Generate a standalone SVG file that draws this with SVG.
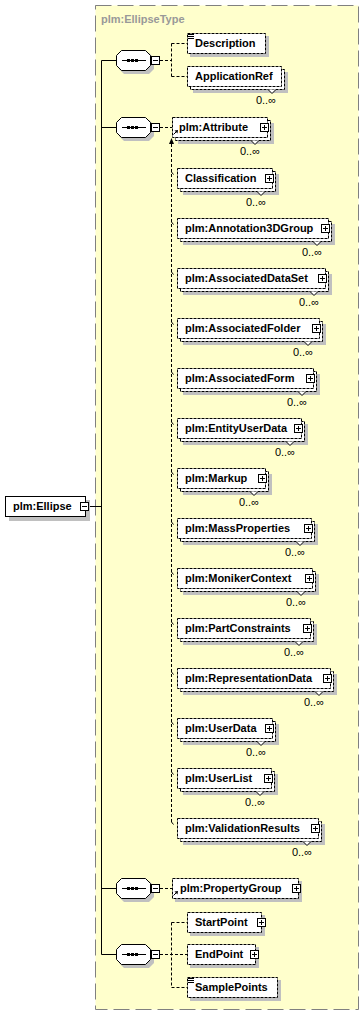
<svg xmlns="http://www.w3.org/2000/svg" xmlns:xlink="http://www.w3.org/1999/xlink" width="364" height="1015" viewBox="0 0 364 1015">
<style>
.t{font-family:"Liberation Sans",Arial,sans-serif;font-size:11px;font-weight:bold;fill:#000}
.o{font-family:"Liberation Sans",Arial,sans-serif;font-size:11px;fill:#000;text-anchor:end}
.ttl{font-family:"Liberation Sans",Arial,sans-serif;font-size:11px;font-weight:bold;fill:#999}
.sh{fill:#c0c0c0}
.el{fill:#fff;stroke:#000;stroke-dasharray:3 1}
.v{fill:#fff;stroke:#000}
.ln{fill:none;stroke:#000}
.dl{fill:none;stroke:#000;stroke-dasharray:3 2}
.bx{fill:#fff;stroke:#000}
</style>
<defs>
<g id="seq">
<polygon class="sh" points="124,-7 149,-7 154,-2 154,9 149,14 124,14 119,9 119,-2"/>
<polygon class="bx" points="121.5,-9.5 145.5,-9.5 150.5,-4.5 150.5,5.5 145.5,10.5 121.5,10.5 116.5,5.5 116.5,-4.5"/>
<path class="ln" d="M122,0.5H146"/>
<rect x="127" y="-1" width="3" height="3"/>
<rect x="131" y="-1" width="3" height="3"/>
<rect x="135" y="-1" width="3" height="3"/>
<rect class="bx" x="151.5" y="-3.5" width="8" height="8"/>
<path class="ln" d="M153,0.5h5"/>
</g>
<g id="plus">
<rect class="bx" x="0.5" y="-3.5" width="8" height="8"/>
<path class="ln" d="M2,0.5h5M4.5,-2v5"/>
</g>
<g id="ref">
<path class="ln" d="M173.5,7.5L176.5,4.5"/>
<polygon points="178,3 174.5,3.5 177.5,6.5"/>
</g>
<g id="tick"><path class="ln" d="M171.5,-6l2,2.5"/></g>
<g id="lines"><path class="ln" d="M188,1.5h6M188,3.5h6M188,5.5h6"/></g>
</defs>

<g id="container">
<rect x="95.5" y="5.5" width="263" height="1004" fill="#ffffcc" stroke="#808080" stroke-dasharray="16 6"/>
<text class="ttl" x="101" y="23">plm:EllipseType</text>
</g>

<g id="connectors">
<path class="ln" d="M88,506.5H101.5M101.5,60.5V954.5M101.5,60.5H117M101.5,127.5H117M101.5,888.5H117M101.5,954.5H117"/>
<path class="dl" d="M160,60.5H171.5M171.5,43.5V76.5M171.5,43.5H187M171.5,76.5H187"/>
<path class="dl" d="M160,127.5H172"/>
<path class="dl" d="M160,888.5H172"/>
<path class="dl" d="M160,954.5H187M171.5,922.5V987.5M171.5,922.5H187M171.5,987.5H187"/>
<path class="dl" d="M171.5,144V822"/>
<polygon points="171.5,138 169,144 174,144"/>
</g>

<g id="seq1"><use xlink:href="#seq" transform="translate(0,60)"/></g>
<g id="seq2"><use xlink:href="#seq" transform="translate(0,127)"/></g>
<g id="seq3"><use xlink:href="#seq" transform="translate(0,888)"/></g>
<g id="seq4"><use xlink:href="#seq" transform="translate(0,954)"/></g>

<g id="root">
<rect class="sh" x="9" y="500" width="81" height="21"/>
<rect class="bx" x="5.5" y="496.5" width="80" height="20"/>
<text class="t" x="13" y="510">plm:Ellipse</text>
<rect class="bx" x="80.5" y="502.5" width="8" height="8"/>
<path class="ln" d="M82,506.5h5"/>
</g>

<g id="Description">
<rect class="sh" x="190" y="36" width="79" height="21"/>
<rect class="el" x="187.5" y="33.5" width="78" height="20"/>
<use xlink:href="#lines" transform="translate(0,33)"/>
<text class="t" x="195" y="47">Description</text>
</g>

<g id="ApplicationRef">
<rect class="sh" x="193" y="72" width="95" height="21"/>
<rect class="el" x="190.5" y="69.5" width="94" height="20"/>
<rect class="el" x="187.5" y="66.5" width="94" height="20"/>
<path class="v" d="M268,89.5L272,93.5L276,89.5"/>
<text class="t" x="195" y="80">ApplicationRef</text>
<text class="o" x="276" y="104">0..∞</text>
</g>

<g id="Attribute">
<rect class="sh" x="178" y="123" width="96" height="21"/>
<rect class="el" x="175.5" y="120.5" width="95" height="20"/>
<rect class="el" x="172.5" y="117.5" width="95" height="20"/>
<path class="v" d="M251,140.5L255,144.5L259,140.5"/>
<use xlink:href="#plus" transform="translate(260,127)"/>
<use xlink:href="#ref" transform="translate(0,127)"/>
<text class="t" x="179" y="131">plm:Attribute</text>
<text class="o" x="260" y="155">0..∞</text>
</g>

<g id="Classification">
<use xlink:href="#tick" transform="translate(0,178)"/>
<rect class="sh" x="183" y="174" width="96" height="21"/>
<rect class="el" x="180.5" y="171.5" width="95" height="20"/>
<rect class="el" x="177.5" y="168.5" width="95" height="20"/>
<path class="v" d="M257,191.5L261,195.5L265,191.5"/>
<use xlink:href="#plus" transform="translate(265,178)"/>
<text class="t" x="185" y="182">Classification</text>
<text class="o" x="266" y="206">0..∞</text>
</g>

<g id="Annotation3DGroup">
<use xlink:href="#tick" transform="translate(0,228)"/>
<rect class="sh" x="183" y="224" width="152" height="21"/>
<rect class="el" x="180.5" y="221.5" width="151" height="20"/>
<rect class="el" x="177.5" y="218.5" width="151" height="20"/>
<path class="v" d="M313,241.5L317,245.5L321,241.5"/>
<use xlink:href="#plus" transform="translate(321,228)"/>
<text class="t" x="185" y="232">plm:Annotation3DGroup</text>
<text class="o" x="322" y="256">0..∞</text>
</g>

<g id="AssociatedDataSet">
<use xlink:href="#tick" transform="translate(0,278)"/>
<rect class="sh" x="183" y="274" width="149" height="21"/>
<rect class="el" x="180.5" y="271.5" width="148" height="20"/>
<rect class="el" x="177.5" y="268.5" width="148" height="20"/>
<path class="v" d="M310,291.5L314,295.5L318,291.5"/>
<use xlink:href="#plus" transform="translate(318,278)"/>
<text class="t" x="185" y="282">plm:AssociatedDataSet</text>
<text class="o" x="319" y="306">0..∞</text>
</g>

<g id="AssociatedFolder">
<use xlink:href="#tick" transform="translate(0,328)"/>
<rect class="sh" x="183" y="324" width="143" height="21"/>
<rect class="el" x="180.5" y="321.5" width="142" height="20"/>
<rect class="el" x="177.5" y="318.5" width="142" height="20"/>
<path class="v" d="M304,341.5L308,345.5L312,341.5"/>
<use xlink:href="#plus" transform="translate(312,328)"/>
<text class="t" x="185" y="332">plm:AssociatedFolder</text>
<text class="o" x="313" y="356">0..∞</text>
</g>

<g id="AssociatedForm">
<use xlink:href="#tick" transform="translate(0,378)"/>
<rect class="sh" x="183" y="374" width="137" height="21"/>
<rect class="el" x="180.5" y="371.5" width="136" height="20"/>
<rect class="el" x="177.5" y="368.5" width="136" height="20"/>
<path class="v" d="M298,391.5L302,395.5L306,391.5"/>
<use xlink:href="#plus" transform="translate(306,378)"/>
<text class="t" x="185" y="382">plm:AssociatedForm</text>
<text class="o" x="307" y="406">0..∞</text>
</g>

<g id="EntityUserData">
<use xlink:href="#tick" transform="translate(0,428)"/>
<rect class="sh" x="183" y="424" width="125" height="21"/>
<rect class="el" x="180.5" y="421.5" width="124" height="20"/>
<rect class="el" x="177.5" y="418.5" width="124" height="20"/>
<path class="v" d="M286,441.5L290,445.5L294,441.5"/>
<use xlink:href="#plus" transform="translate(294,428)"/>
<text class="t" x="185" y="432">plm:EntityUserData</text>
<text class="o" x="295" y="456">0..∞</text>
</g>

<g id="Markup">
<use xlink:href="#tick" transform="translate(0,478)"/>
<rect class="sh" x="183" y="474" width="89" height="21"/>
<rect class="el" x="180.5" y="471.5" width="88" height="20"/>
<rect class="el" x="177.5" y="468.5" width="88" height="20"/>
<path class="v" d="M250,491.5L254,495.5L258,491.5"/>
<use xlink:href="#plus" transform="translate(258,478)"/>
<text class="t" x="185" y="482">plm:Markup</text>
<text class="o" x="259" y="506">0..∞</text>
</g>

<g id="MassProperties">
<use xlink:href="#tick" transform="translate(0,528)"/>
<rect class="sh" x="183" y="524" width="135" height="21"/>
<rect class="el" x="180.5" y="521.5" width="134" height="20"/>
<rect class="el" x="177.5" y="518.5" width="134" height="20"/>
<path class="v" d="M296,541.5L300,545.5L304,541.5"/>
<use xlink:href="#plus" transform="translate(304,528)"/>
<text class="t" x="185" y="532">plm:MassProperties</text>
<text class="o" x="305" y="556">0..∞</text>
</g>

<g id="MonikerContext">
<use xlink:href="#tick" transform="translate(0,578)"/>
<rect class="sh" x="183" y="574" width="136" height="21"/>
<rect class="el" x="180.5" y="571.5" width="135" height="20"/>
<rect class="el" x="177.5" y="568.5" width="135" height="20"/>
<path class="v" d="M297,591.5L301,595.5L305,591.5"/>
<use xlink:href="#plus" transform="translate(305,578)"/>
<text class="t" x="185" y="582">plm:MonikerContext</text>
<text class="o" x="306" y="606">0..∞</text>
</g>

<g id="PartConstraints">
<use xlink:href="#tick" transform="translate(0,628)"/>
<rect class="sh" x="183" y="624" width="134" height="21"/>
<rect class="el" x="180.5" y="621.5" width="133" height="20"/>
<rect class="el" x="177.5" y="618.5" width="133" height="20"/>
<path class="v" d="M295,641.5L299,645.5L303,641.5"/>
<use xlink:href="#plus" transform="translate(303,628)"/>
<text class="t" x="185" y="632">plm:PartConstraints</text>
<text class="o" x="304" y="656">0..∞</text>
</g>

<g id="RepresentationData">
<use xlink:href="#tick" transform="translate(0,678)"/>
<rect class="sh" x="183" y="674" width="154" height="21"/>
<rect class="el" x="180.5" y="671.5" width="153" height="20"/>
<rect class="el" x="177.5" y="668.5" width="153" height="20"/>
<path class="v" d="M315,691.5L319,695.5L323,691.5"/>
<use xlink:href="#plus" transform="translate(323,678)"/>
<text class="t" x="185" y="682">plm:RepresentationData</text>
<text class="o" x="324" y="706">0..∞</text>
</g>

<g id="UserData">
<use xlink:href="#tick" transform="translate(0,728)"/>
<rect class="sh" x="183" y="724" width="96" height="21"/>
<rect class="el" x="180.5" y="721.5" width="95" height="20"/>
<rect class="el" x="177.5" y="718.5" width="95" height="20"/>
<path class="v" d="M257,741.5L261,745.5L265,741.5"/>
<use xlink:href="#plus" transform="translate(265,728)"/>
<text class="t" x="185" y="732">plm:UserData</text>
<text class="o" x="266" y="756">0..∞</text>
</g>

<g id="UserList">
<use xlink:href="#tick" transform="translate(0,778)"/>
<rect class="sh" x="183" y="774" width="95" height="21"/>
<rect class="el" x="180.5" y="771.5" width="94" height="20"/>
<rect class="el" x="177.5" y="768.5" width="94" height="20"/>
<path class="v" d="M256,791.5L260,795.5L264,791.5"/>
<use xlink:href="#plus" transform="translate(264,778)"/>
<text class="t" x="185" y="782">plm:UserList</text>
<text class="o" x="265" y="806">0..∞</text>
</g>

<g id="ValidationResults">
<use xlink:href="#tick" transform="translate(0,828)"/>
<rect class="sh" x="183" y="824" width="142" height="21"/>
<rect class="el" x="180.5" y="821.5" width="141" height="20"/>
<rect class="el" x="177.5" y="818.5" width="141" height="20"/>
<path class="v" d="M303,841.5L307,845.5L311,841.5"/>
<use xlink:href="#plus" transform="translate(311,828)"/>
<text class="t" x="185" y="832">plm:ValidationResults</text>
<text class="o" x="312" y="856">0..∞</text>
</g>

<g id="PropertyGroup">
<rect class="sh" x="175" y="881" width="127" height="21"/>
<rect class="el" x="172.5" y="878.5" width="126" height="20"/>
<use xlink:href="#plus" transform="translate(292,888)"/>
<use xlink:href="#ref" transform="translate(0,888)"/>
<text class="t" x="180" y="892">plm:PropertyGroup</text>
</g>

<g id="StartPoint">
<rect class="sh" x="190" y="915" width="75" height="21"/>
<rect class="el" x="187.5" y="912.5" width="74" height="20"/>
<use xlink:href="#plus" transform="translate(257,922)"/>
<text class="t" x="195" y="926">StartPoint</text>
</g>

<g id="EndPoint">
<rect class="sh" x="190" y="947" width="69" height="21"/>
<rect class="el" x="187.5" y="944.5" width="68" height="20"/>
<use xlink:href="#plus" transform="translate(250,954)"/>
<text class="t" x="195" y="958">EndPoint</text>
</g>

<g id="SamplePoints">
<rect class="sh" x="190" y="980" width="91" height="21"/>
<rect class="el" x="187.5" y="977.5" width="90" height="20"/>
<use xlink:href="#lines" transform="translate(0,977)"/>
<text class="t" x="195" y="991">SamplePoints</text>
</g>
</svg>
